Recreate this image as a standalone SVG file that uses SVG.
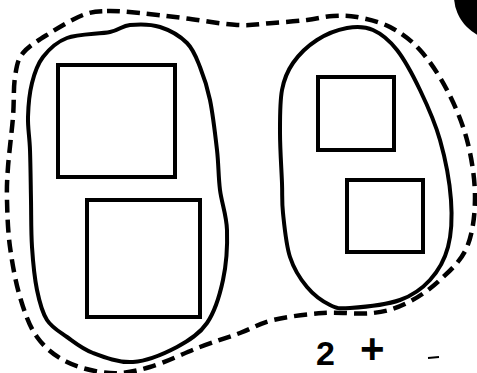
<svg xmlns="http://www.w3.org/2000/svg" width="477" height="373" viewBox="0 0 477 373">
<style>
.blob{fill:none;stroke:#000;stroke-width:4;stroke-linejoin:round}
.dash{fill:none;stroke:#000;stroke-width:4.5;stroke-dasharray:13 7;stroke-linecap:butt}
.sq{fill:none;stroke:#000;stroke-width:4}
.lbl{font-family:"Liberation Sans",Arial,sans-serif;font-weight:bold;fill:#000}
</style>
<rect width="477" height="373" fill="#fff"/>
<circle cx="498" cy="-4" r="44" fill="#000"/>
<g id="connectors">
<path id="outer" class="dash" d="M107,11 C116.5,10.7 127.3,11.8 140,13 S166.8,16 183,18 S222,24.2 237,25 S261.3,23.8 273,23 S297,21.2 307,20 S324.7,16.5 333,16 S347.5,15.2 357,17 S379.5,21.5 390,27 S410.5,39.5 420,50 S439.2,75 447,90 S462.3,122.2 467,140 S475,179.2 475,197 S472.8,233.2 467,247 S450,270.7 440,280 S418.2,297.5 407,303 S387,311.3 373,313 S339.7,311.8 323,313 S286.8,316.7 273,320 S252.2,328.5 240,333 S215,341.3 200,347 S165,362.7 150,367 S123.8,373.8 110,373 S79.2,368 67,362 S44.8,347.8 37,337 S24.5,312 20,297 S12.2,263.2 10,247 S7.3,213.3 7,200 S7,180.8 8,167 S11.8,132 13,117 S13.3,87.7 15,77 S17.2,60.3 23,53 S40,39.3 50,33 S73.5,18.7 83,15 S97.5,11.3 107,11"/>
</g>
<g id="left-group">
<path class="blob" d="M130,25 C138.3,24.2 150.5,24 160,27 S180.3,36.3 187,43 S196.2,57.5 200,67 S207.2,86.2 210,100 S215.3,135 217,150 S218.3,176.7 220,190 S226.5,215 227,230 S226.3,264.5 223,280 S214.7,311.8 207,323 S189.3,340.5 177,347 S147,361 133,362 S104,357.2 93,353 S74.7,342.5 67,337 S52,327.8 47,320 S39.5,302.2 37,290 S33,262 32,247 S31.3,216.2 31,200 S30.5,163.8 30,150 S27.7,128.2 28,117 S29.5,93 32,83 S37.2,64.5 43,57 S55.8,42.2 67,38 S99.5,34.2 110,32 S121.7,25.8 130,25 Z"/>
</g>
<g id="left-square-1"><rect class="sq" x="58" y="65" width="117" height="112"/></g>
<g id="left-square-2"><rect class="sq" x="87" y="200" width="113" height="117"/></g>
<g id="right-group">
<path class="blob" d="M347,28 C356.3,26.3 364.7,26.3 373,30 S389.2,40 397,50 S412.8,75 420,90 S434.8,121.7 440,140 S449.7,182.2 451,200 S451.5,233.7 448,247 S438,271.2 430,280 S413.3,295.3 400,300 S361.7,307.2 350,308 S337.2,308.5 330,305 S313.7,295 307,287 S294,269.3 290,257 S284.3,225.3 283,213 S282.5,196.3 282,183 S280,148.5 280,133 S279.8,101.7 282,90 S287.2,71.3 293,63 S308,45.8 317,40 S337.7,29.7 347,28 Z"/>
</g>
<g id="right-square-1"><rect class="sq" x="318" y="77" width="76" height="73"/></g>
<g id="right-square-2"><rect class="sq" x="347" y="180" width="76" height="72"/></g>
<g id="label">
<text class="lbl" x="316" y="365" font-size="34">2<tspan x="360" y="363" font-size="42">+</tspan></text>
</g>
<line x1="428" y1="358" x2="439" y2="357" stroke="#000" stroke-width="2"/>
</svg>
